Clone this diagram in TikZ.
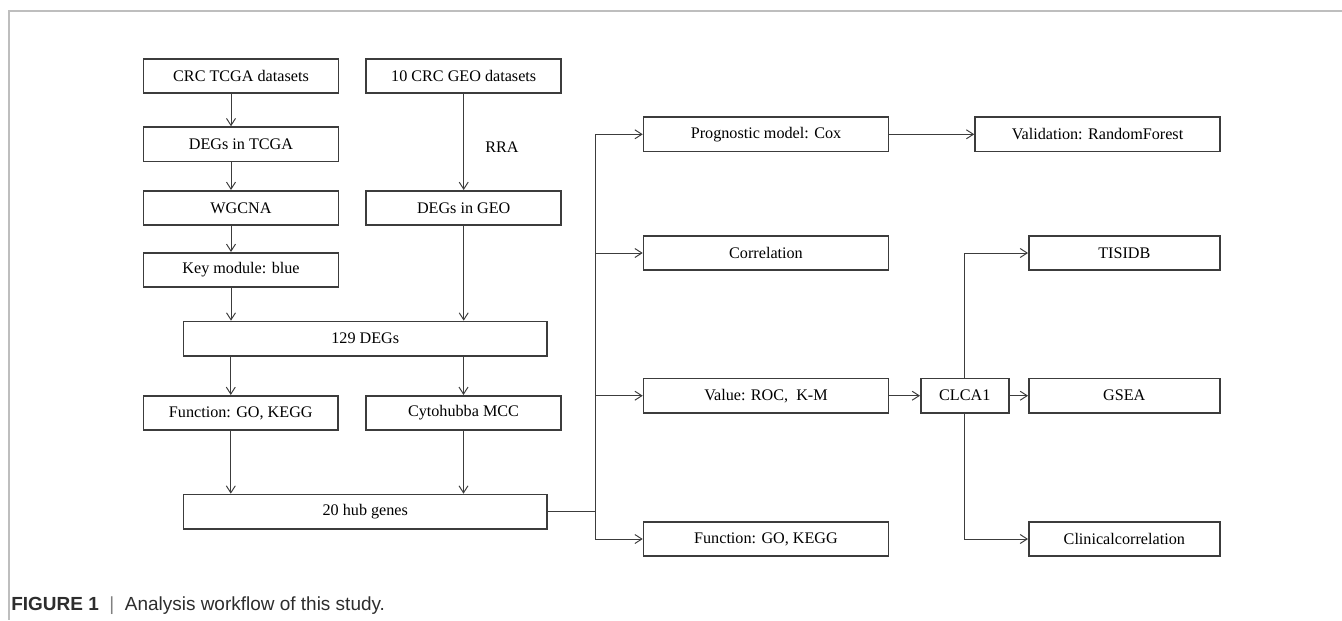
\documentclass[tikz,border=0pt]{standalone}
\usepackage{fontspec}
\setmainfont{Liberation Serif}
\newfontfamily\capfont{Liberation Sans}
\usepackage{xcolor}
\usepackage{tikz}
\usetikzlibrary{positioning,arrows.meta}
\definecolor{cLine}{RGB}{60,60,60}
\definecolor{cFrame}{RGB}{190,190,190}
\definecolor{cCap}{RGB}{45,45,45}

\begin{document}
\begin{tikzpicture}[x=0.02cm,y=-0.02cm,every node/.style={font=\fontsize{9.2}{11}\selectfont},
    box/.style={draw=cLine,line width=0.9pt,minimum height=0.69cm,inner sep=0pt},
    link/.style={draw=cLine,line width=0.55pt},
    arr/.style={link,-{Straight Barb[length=1.4mm,width=1.8mm]}}]
  \useasboundingbox (0,0) rectangle (1342,620);
  \draw[cFrame,line width=1.2pt] (1342,11) -- (9,11) -- (9,620);
  % left part
  \node[box,minimum width=3.9cm] (tcga) at (241,76) {CRC TCGA datasets};
  \node[box,minimum width=3.9cm] (geo) at (463.7,76) {10 CRC GEO datasets};
  \node[box,minimum width=3.9cm] (degt) at (241,144.3) {DEGs in TCGA};
  \node[box,minimum width=3.9cm] (wgcna) at (241,208) {WGCNA};
  \node[box,minimum width=3.9cm] (degg) at (463.7,208) {DEGs in GEO};
  \node[box,minimum width=3.9cm] (key) at (241,270) {Key module: blue};
  \node (rra) at (502,147) {RRA};
  \node[box,minimum width=7.28cm] (deg129) at (365.3,338.7) {129 DEGs};
  \node[box,minimum width=3.9cm] (fnl) at (240.8,413) {Function: GO, KEGG};
  \node[box,minimum width=3.9cm] (cyto) at (463.5,413) {Cytohubba MCC};
  \node[box,minimum width=7.28cm] (hub) at (365.3,511.7) {20 hub genes};
  % right part
  \node[box,minimum width=4.9cm] (prog) at (766,134.3) {Prognostic model: Cox};
  \node[box,minimum width=4.9cm] (corr) at (766,253) {Correlation};
  \node[box,minimum width=4.9cm] (value) at (766,395.7) {Value: ROC,\ \ K-M};
  \node[box,minimum width=4.9cm] (fnr) at (766,539) {Function: GO, KEGG};
  \node[box,minimum width=4.9cm] (valid) at (1097.5,134.3) {Validation: RandomForest};
  \node[box,minimum width=1.76cm] (clca) at (964.8,395.7) {CLCA1};
  \node[box,minimum width=3.82cm] (tisidb) at (1124.3,253) {TISIDB};
  \node[box,minimum width=3.82cm] (gsea) at (1124.3,395.7) {GSEA};
  \node[box,minimum width=3.82cm] (clin) at (1124.3,539) {Clinicalcorrelation};
  \coordinate (tr) at (595.5,511.7);
  \node[anchor=west,inner sep=0pt,text=cCap,font=\capfont\fontsize{10.8}{13}\selectfont] (cap) at (11,606)
    {\textbf{FIGURE 1}\ \ {\color{gray}|}\ \ Analysis workflow of this study.};
  \draw[arr] ([xshift=-0.2cm]tcga.south) -- ([xshift=-0.2cm]degt.north);
  \draw[arr] ([xshift=-0.2cm]degt.south) -- ([xshift=-0.2cm]wgcna.north);
  \draw[arr] ([xshift=-0.2cm]wgcna.south) -- ([xshift=-0.2cm]key.north);
  \draw[arr] ([xshift=-0.2cm]key.south) -- ([xshift=-0.2cm]key.south |- deg129.north);
  \draw[arr] (geo.south) -- (degg.north);
  \draw[arr] (degg.south) -- (degg.south |- deg129.north);
  \draw[arr] ([xshift=-0.2cm]fnl.north |- deg129.south) -- ([xshift=-0.2cm]fnl.north);
  \draw[arr] (cyto.north |- deg129.south) -- (cyto.north);
  \draw[arr] ([xshift=-0.2cm]fnl.south) -- ([xshift=-0.2cm]fnl.south |- hub.north);
  \draw[arr] (cyto.south) -- (cyto.south |- hub.north);
  \draw[link] (hub.east) -- (tr);
  \draw[arr] (tr) |- (prog.west); \draw[arr] (tr) |- (corr.west);
  \draw[arr] (tr) |- (value.west); \draw[arr] (tr) |- (fnr.west);
  \draw[arr] (prog) -- (valid); \draw[arr] (value) -- (clca);
  \draw[arr] (clca.north) |- (tisidb.west); \draw[arr] (clca) -- (gsea);
  \draw[arr] (clca.south) |- (clin.west);
\end{tikzpicture}
\end{document}
